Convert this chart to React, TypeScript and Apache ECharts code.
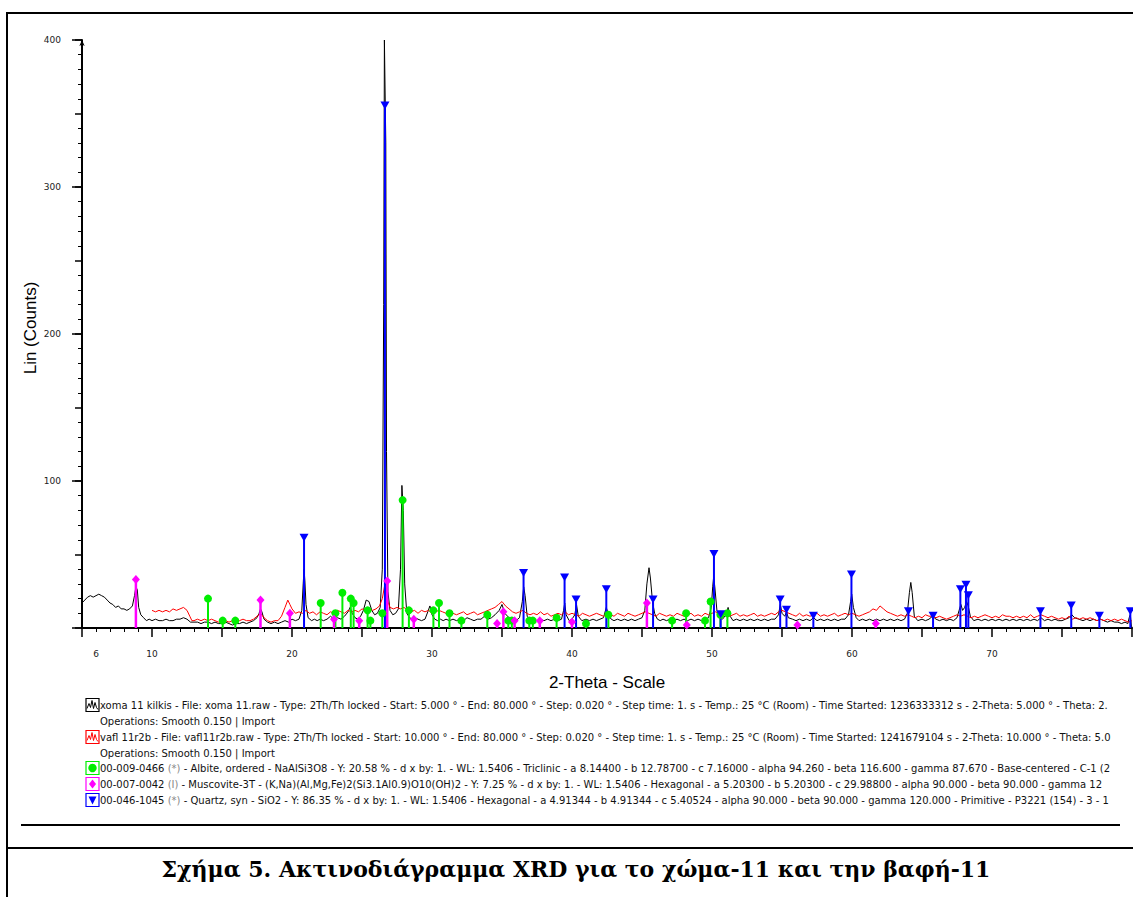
import React, { useEffect, useRef } from "react";
import * as echarts from "echarts";

// ---- Scan: xoma 11 kilkis (black), [2θ, counts]
const XOMA_SCAN: [number, number][] = [
  [5.0, 17], [5.2, 19], [5.4, 21], [5.6, 22], [5.8, 21], [6.0, 22], [6.2, 23], [6.4, 22], [6.6, 21], [6.8, 19],
  [7.0, 17], [7.2, 16], [7.4, 14], [7.6, 15], [7.8, 13], [8.0, 13], [8.2, 12], [8.4, 13], [8.6, 15], [8.75, 22],
  [8.85, 28], [8.95, 26], [9.05, 14], [9.2, 9], [9.4, 7], [9.6, 5], [9.8, 6], [10.0, 5], [10.25, 6], [10.5, 5],
  [10.75, 5], [11.0, 6], [11.25, 5], [11.5, 5], [11.75, 6], [12.0, 6], [12.25, 7], [12.5, 6], [12.75, 4], [13.0, 4],
  [13.25, 4], [13.5, 3], [13.75, 4], [14.0, 4], [14.25, 3], [14.5, 4], [14.75, 3], [15.0, 3], [15.25, 4], [15.5, 3],
  [15.75, 2], [16.0, 3], [16.25, 3], [16.5, 4], [16.75, 3], [17.0, 4], [17.25, 5], [17.5, 7], [17.65, 10], [17.75, 13],
  [17.85, 11], [18.0, 6], [18.25, 4], [18.5, 3], [18.75, 4], [19.0, 3], [19.25, 4], [19.5, 5], [19.75, 4], [20.0, 6],
  [20.25, 5], [20.5, 6], [20.7, 12], [20.8, 30], [20.86, 40], [20.92, 32], [21.0, 16], [21.15, 7], [21.4, 5], [21.6, 6],
  [21.8, 5], [22.0, 6], [22.25, 5], [22.5, 6], [22.75, 8], [23.0, 6], [23.25, 7], [23.5, 6], [23.75, 8], [24.0, 11],
  [24.15, 14], [24.3, 10], [24.5, 7], [24.7, 6], [24.9, 8], [25.1, 12], [25.3, 19], [25.5, 18], [25.7, 12], [25.9, 9],
  [26.1, 10], [26.3, 14], [26.45, 40], [26.55, 220], [26.6, 400], [26.65, 400], [26.7, 330], [26.75, 120], [26.85, 25], [27.0, 12],
  [27.2, 9], [27.4, 10], [27.6, 13], [27.75, 40], [27.85, 97], [27.95, 80], [28.05, 30], [28.2, 10], [28.4, 7], [28.6, 6],
  [28.8, 7], [29.0, 6], [29.25, 5], [29.5, 6], [29.7, 11], [29.85, 15], [30.0, 9], [30.2, 6], [30.4, 5], [30.6, 6],
  [30.8, 5], [31.0, 6], [31.25, 5], [31.5, 6], [31.75, 5], [32.0, 6], [32.25, 5], [32.5, 7], [32.75, 6], [33.0, 5],
  [33.25, 6], [33.5, 6], [33.75, 8], [34.0, 6], [34.25, 7], [34.5, 9], [34.8, 12], [35.0, 16], [35.2, 10], [35.5, 7],
  [35.75, 6], [36.0, 5], [36.25, 7], [36.45, 18], [36.55, 28], [36.65, 22], [36.8, 8], [37.0, 5], [37.25, 6], [37.5, 5],
  [37.75, 6], [38.0, 5], [38.25, 6], [38.5, 5], [38.75, 6], [39.0, 5], [39.25, 6], [39.4, 12], [39.48, 17], [39.58, 9],
  [39.8, 5], [40.0, 6], [40.2, 9], [40.32, 16], [40.45, 8], [40.7, 5], [41.0, 6], [41.25, 5], [41.5, 6], [41.75, 5],
  [42.0, 6], [42.25, 7], [42.45, 14], [42.6, 9], [42.8, 6], [43.0, 5], [43.25, 6], [43.5, 5], [43.75, 6], [44.0, 5],
  [44.25, 6], [44.5, 5], [44.75, 6], [45.0, 7], [45.2, 12], [45.35, 30], [45.5, 41], [45.6, 34], [45.75, 18], [45.9, 10],
  [46.1, 6], [46.3, 5], [46.5, 6], [46.75, 5], [47.0, 6], [47.25, 5], [47.5, 6], [47.75, 5], [48.0, 6], [48.25, 5],
  [48.5, 6], [48.75, 5], [49.0, 6], [49.25, 5], [49.5, 6], [49.75, 7], [49.95, 14], [50.05, 28], [50.12, 35], [50.2, 28],
  [50.35, 12], [50.5, 7], [50.75, 6], [51.0, 9], [51.15, 14], [51.3, 8], [51.5, 5], [51.75, 6], [52.0, 5], [52.25, 6],
  [52.5, 5], [52.75, 6], [53.0, 5], [53.25, 6], [53.5, 5], [53.75, 6], [54.0, 5], [54.25, 6], [54.5, 6], [54.75, 9],
  [54.88, 16], [55.0, 10], [55.2, 8], [55.32, 11], [55.45, 7], [55.75, 6], [56.0, 5], [56.25, 6], [56.5, 5], [56.75, 6],
  [57.0, 5], [57.25, 7], [57.5, 5], [57.75, 6], [58.0, 5], [58.25, 6], [58.5, 5], [58.75, 6], [59.0, 5], [59.25, 6],
  [59.5, 6], [59.75, 9], [59.9, 18], [59.98, 23], [60.1, 14], [60.3, 7], [60.5, 5], [60.75, 6], [61.0, 5], [61.25, 6],
  [61.5, 5], [61.75, 6], [62.0, 5], [62.25, 6], [62.5, 5], [62.75, 6], [63.0, 5], [63.25, 6], [63.5, 5], [63.75, 6],
  [63.95, 10], [64.1, 24], [64.2, 31], [64.3, 24], [64.45, 8], [64.7, 5], [65.0, 6], [65.25, 5], [65.5, 6], [65.75, 8],
  [66.0, 6], [66.25, 5], [66.5, 6], [66.75, 5], [67.0, 6], [67.25, 5], [67.5, 7], [67.65, 12], [67.78, 16], [67.9, 12],
  [68.05, 14], [68.18, 18], [68.3, 15], [68.45, 8], [68.7, 5], [69.0, 6], [69.25, 5], [69.5, 6], [69.75, 5], [70.0, 6],
  [70.25, 5], [70.5, 6], [70.75, 5], [71.0, 6], [71.25, 5], [71.5, 6], [71.75, 5], [72.0, 6], [72.25, 5], [72.5, 6],
  [72.75, 5], [73.0, 6], [73.25, 5], [73.5, 7], [73.75, 5], [74.0, 6], [74.25, 5], [74.5, 6], [74.75, 5], [75.0, 5],
  [75.25, 6], [75.5, 7], [75.7, 9], [75.9, 7], [76.2, 6], [76.5, 5], [76.75, 6], [77.0, 5], [77.25, 6], [77.5, 5],
  [77.75, 6], [78.0, 5], [78.25, 4], [78.5, 5], [78.75, 4], [79.0, 4], [79.25, 3], [79.5, 4], [79.7, 3], [79.8, 7],
  [79.88, 9], [79.95, 2], [80.0, 0],
];

// ---- Scan: vafl 11r2b (red), [2θ, counts]
const VAFL_SCAN: [number, number][] = [
  [10.0, 12], [10.25, 11], [10.5, 12], [10.75, 11], [11.0, 12], [11.25, 11], [11.5, 13], [11.75, 12], [12.0, 13], [12.25, 14],
  [12.5, 12], [12.7, 8], [12.85, 5], [13.0, 5], [13.25, 6], [13.5, 5], [13.75, 6], [14.0, 5], [14.25, 6], [14.5, 5],
  [14.75, 4], [15.0, 5], [15.25, 5], [15.5, 4], [15.75, 5], [16.0, 4], [16.25, 5], [16.5, 6], [16.75, 5], [17.0, 5],
  [17.25, 6], [17.5, 8], [17.75, 10], [18.0, 7], [18.25, 5], [18.5, 4], [18.75, 5], [19.0, 5], [19.25, 8], [19.5, 14],
  [19.7, 19], [19.85, 16], [20.0, 13], [20.25, 10], [20.5, 11], [20.75, 10], [21.0, 12], [21.25, 10], [21.5, 11], [21.75, 9],
  [22.0, 11], [22.25, 10], [22.5, 9], [22.75, 11], [23.0, 10], [23.25, 12], [23.5, 11], [23.75, 10], [24.0, 12], [24.25, 11],
  [24.5, 12], [24.75, 11], [25.0, 13], [25.25, 12], [25.5, 13], [25.75, 12], [26.0, 13], [26.25, 15], [26.45, 20], [26.6, 28],
  [26.7, 26], [26.85, 18], [27.0, 14], [27.25, 13], [27.5, 14], [27.75, 13], [28.0, 14], [28.25, 12], [28.5, 11], [28.75, 12],
  [29.0, 10], [29.25, 12], [29.5, 11], [29.75, 12], [30.0, 10], [30.25, 11], [30.5, 12], [30.75, 11], [31.0, 10], [31.25, 11],
  [31.5, 10], [31.75, 9], [32.0, 10], [32.25, 11], [32.5, 9], [32.75, 10], [33.0, 11], [33.25, 9], [33.5, 10], [33.75, 11],
  [34.0, 12], [34.25, 13], [34.5, 14], [34.75, 16], [35.0, 18], [35.25, 15], [35.5, 13], [35.75, 11], [36.0, 10], [36.25, 11],
  [36.5, 12], [36.75, 10], [37.0, 9], [37.25, 10], [37.5, 9], [37.75, 11], [38.0, 9], [38.25, 10], [38.5, 8], [38.75, 9],
  [39.0, 10], [39.25, 9], [39.5, 11], [39.75, 9], [40.0, 10], [40.25, 9], [40.5, 8], [40.75, 10], [41.0, 9], [41.25, 8],
  [41.5, 9], [41.75, 10], [42.0, 9], [42.25, 8], [42.5, 10], [42.75, 9], [43.0, 8], [43.25, 10], [43.5, 9], [43.75, 8],
  [44.0, 10], [44.25, 9], [44.5, 8], [44.75, 9], [45.0, 10], [45.25, 11], [45.5, 10], [45.75, 9], [46.0, 8], [46.25, 10],
  [46.5, 9], [46.75, 8], [47.0, 9], [47.25, 8], [47.5, 10], [47.75, 9], [48.0, 8], [48.25, 9], [48.5, 10], [48.75, 8],
  [49.0, 9], [49.25, 8], [49.5, 10], [49.75, 9], [50.0, 10], [50.25, 11], [50.5, 9], [50.75, 10], [51.0, 9], [51.25, 8],
  [51.5, 9], [51.75, 10], [52.0, 8], [52.25, 9], [52.5, 8], [52.75, 9], [53.0, 10], [53.25, 8], [53.5, 9], [53.75, 8],
  [54.0, 9], [54.25, 10], [54.5, 9], [54.75, 11], [55.0, 12], [55.25, 11], [55.5, 10], [55.75, 9], [56.0, 8], [56.25, 10],
  [56.5, 8], [56.75, 9], [57.0, 8], [57.25, 9], [57.5, 10], [57.75, 8], [58.0, 9], [58.25, 8], [58.5, 9], [58.75, 10],
  [59.0, 8], [59.25, 9], [59.5, 10], [59.75, 9], [60.0, 10], [60.25, 9], [60.5, 8], [60.75, 9], [61.0, 10], [61.25, 11],
  [61.5, 13], [61.75, 12], [62.0, 15], [62.25, 13], [62.5, 11], [62.75, 10], [63.0, 9], [63.25, 8], [63.5, 9], [63.75, 8],
  [64.0, 9], [64.25, 8], [64.5, 7], [64.75, 8], [65.0, 7], [65.25, 9], [65.5, 8], [65.75, 8], [66.0, 7], [66.25, 8],
  [66.5, 7], [66.75, 6], [67.0, 7], [67.25, 8], [67.5, 9], [67.75, 8], [68.0, 9], [68.25, 8], [68.5, 7], [68.75, 8],
  [69.0, 7], [69.25, 8], [69.5, 9], [69.75, 8], [70.0, 7], [70.25, 8], [70.5, 7], [70.75, 9], [71.0, 8], [71.25, 8],
  [71.5, 7], [71.75, 8], [72.0, 7], [72.25, 8], [72.5, 7], [72.75, 9], [73.0, 7], [73.25, 8], [73.5, 9], [73.75, 8],
  [74.0, 7], [74.25, 8], [74.5, 7], [74.75, 6], [75.0, 7], [75.25, 6], [75.5, 8], [75.75, 6], [76.0, 7], [76.25, 6],
  [76.5, 7], [76.75, 6], [77.0, 7], [77.25, 6], [77.5, 5], [77.75, 6], [78.0, 5], [78.25, 6], [78.5, 5], [78.75, 6],
  [79.0, 5], [79.25, 6], [79.5, 5], [79.75, 4], [80.0, 5],
];

// ---- Reference patterns (stick positions / heights)
const ALBITE_STICKS: [number, number][] = [
  [14.0, 20], [15.05, 5], [15.95, 5], [22.05, 17], [23.1, 10], [23.6, 24], [24.2, 20], [24.4, 17], [25.4, 12],
  [25.6, 5], [26.45, 10], [27.9, 87], [28.35, 12], [30.1, 12], [30.5, 17], [31.25, 10], [32.1, 5], [33.95, 9],
  [35.45, 5], [35.7, 5], [36.95, 5], [37.2, 5], [38.9, 7], [41.0, 3], [42.6, 9], [47.15, 5], [48.15, 10],
  [49.5, 5], [49.9, 18], [50.6, 9], [51.1, 10],
];
const MUSCOVITE_STICKS: [number, number][] = [
  [8.85, 33], [17.75, 19], [19.85, 10], [23.0, 6], [24.8, 5], [26.8, 32], [28.7, 6], [34.65, 3], [35.1, 11],
  [35.9, 5], [37.7, 5], [40.0, 4], [45.35, 17], [48.2, 2], [56.1, 2], [61.7, 3],
];
const QUARTZ_STICKS: [number, number][] = [
  [20.86, 60], [26.64, 354], [36.54, 36], [39.47, 33], [40.29, 18], [42.45, 25], [45.79, 18], [50.14, 49],
  [50.62, 8], [54.87, 18], [55.32, 11], [57.24, 7], [59.96, 35], [64.03, 10], [65.79, 7], [67.74, 25],
  [68.14, 28], [68.31, 21], [73.46, 10], [75.66, 14], [77.67, 7], [79.88, 10],
];

const X_LABEL_VALUES = [6, 10, 20, 30, 40, 50, 60, 70];
const Y_LABEL_VALUES = [100, 200, 300, 400];

const LEGEND_LINES = [
  "xoma 11 kilkis - File: xoma 11.raw - Type: 2Th/Th locked - Start: 5.000 ° - End: 80.000 ° - Step: 0.020 ° - Step time: 1. s - Temp.: 25 °C (Room) - Time Started: 1236333312 s - 2-Theta: 5.000 ° - Theta: 2.",
  "Operations: Smooth 0.150 | Import",
  "vafl 11r2b - File: vafl11r2b.raw - Type: 2Th/Th locked - Start: 10.000 ° - End: 80.000 ° - Step: 0.020 ° - Step time: 1. s - Temp.: 25 °C (Room) - Time Started: 1241679104 s - 2-Theta: 10.000 ° - Theta: 5.0",
  "Operations: Smooth 0.150 | Import",
  "00-009-0466 {g|(*)} - Albite, ordered - NaAlSi3O8 - Y: 20.58 % - d x by: 1. - WL: 1.5406 - Triclinic - a 8.14400 - b 12.78700 - c 7.16000 - alpha 94.260 - beta 116.600 - gamma 87.670 - Base-centered - C-1 (2",
  "00-007-0042 {g|(I)} - Muscovite-3T - (K,Na)(Al,Mg,Fe)2(Si3.1Al0.9)O10(OH)2 - Y: 7.25 % - d x by: 1. - WL: 1.5406 - Hexagonal - a 5.20300 - b 5.20300 - c 29.98800 - alpha 90.000 - beta 90.000 - gamma 12",
  "00-046-1045 {g|(*)} - Quartz, syn - SiO2 - Y: 86.35 % - d x by: 1. - WL: 1.5406 - Hexagonal - a 4.91344 - b 4.91344 - c 5.40524 - alpha 90.000 - beta 90.000 - gamma 120.000 - Primitive - P3221 (154) - 3 - 1",
];

const CAPTION = "Σχήμα 5. Ακτινοδιάγραμμα XRD για το χώμα-11 και την βαφή-11";

const BLACK = "#000000";
const RED = "#ff0000";
const GREEN = "#00ee00";
const MAGENTA = "#ff00ff";
const BLUE = "#0000ff";

const SMALL_FONT = "DejaVu Sans";

function stickSeries(name: string, data: [number, number][], color: string, width: number) {
  return {
    name,
    type: "custom",
    data,
    clip: true,
    z: 3,
    renderItem: (_p: any, api: any) => {
      const top = api.coord([api.value(0), api.value(1)]);
      const base = api.coord([api.value(0), 0]);
      return {
        type: "line",
        shape: { x1: top[0], y1: top[1], x2: base[0], y2: base[1] },
        style: { stroke: color, lineWidth: width },
      };
    },
  };
}

function markerSeries(name: string, data: [number, number][], color: string, symbol: string, size: any, rotate = 0, offset = [0, 0]) {
  return {
    name,
    type: "scatter",
    data,
    symbol,
    symbolSize: size,
    symbolRotate: rotate,
    symbolOffset: offset,
    itemStyle: { color, opacity: 1 },
    z: 4,
    silent: true,
  };
}

function legendIcon(y: number, color: string, kind: string): any {
  const x0 = 86;
  const y0 = y - 6.5;
  const children: any[] = [
    { type: "rect", shape: { x: x0, y: y0, width: 13, height: 13 }, style: { fill: "#fff", stroke: color, lineWidth: 1.2 } },
  ];
  if (kind === "line") {
    children.push({
      type: "polyline",
      shape: { points: [[x0 + 1, y0 + 10], [x0 + 3, y0 + 5], [x0 + 4.5, y0 + 9], [x0 + 6, y0 + 2], [x0 + 7.5, y0 + 10], [x0 + 9, y0 + 4], [x0 + 10.5, y0 + 9], [x0 + 12, y0 + 11]] },
      style: { stroke: color, fill: null, lineWidth: 1 },
    });
  } else if (kind === "circle") {
    children.push({ type: "circle", shape: { cx: x0 + 6.5, cy: y0 + 6.5, r: 4.2 }, style: { fill: color } });
  } else if (kind === "diamond") {
    children.push({ type: "polygon", shape: { points: [[x0 + 6.5, y0 + 2], [x0 + 10, y0 + 6.5], [x0 + 6.5, y0 + 11], [x0 + 3, y0 + 6.5]] }, style: { fill: color } });
  } else {
    children.push({ type: "polygon", shape: { points: [[x0 + 2.5, y0 + 3], [x0 + 10.5, y0 + 3], [x0 + 6.5, y0 + 11]] }, style: { fill: color } });
  }
  return { type: "group", children };
}

export default function App() {
  const ref = useRef<HTMLDivElement>(null);

  useEffect(() => {
    if (!ref.current) return;
    const chart = echarts.init(ref.current, undefined, { renderer: "svg" });

    const legendY = [705, 721, 737, 753, 768, 784, 800];
    const legendKinds: [string, string][] = [
      [BLACK, "line"], ["", ""], [RED, "line"], ["", ""], [GREEN, "circle"], [MAGENTA, "diamond"], [BLUE, "triangle"],
    ];

    const graphics: any[] = [
      // outer frame
      { type: "line", shape: { x1: 6, y1: 13, x2: 1133, y2: 13 }, style: { stroke: "#000", lineWidth: 2 } },
      { type: "line", shape: { x1: 7, y1: 12, x2: 7, y2: 897 }, style: { stroke: "#000", lineWidth: 2 } },
      { type: "line", shape: { x1: 6, y1: 848, x2: 1133, y2: 848 }, style: { stroke: "#000", lineWidth: 2 } },
      { type: "line", shape: { x1: 21, y1: 825, x2: 1120, y2: 825 }, style: { stroke: "#000", lineWidth: 2 } },
      // axis names
      {
        type: "text",
        style: { text: "2-Theta - Scale", x: 607, y: 682, align: "center", verticalAlign: "middle", font: '17px "Liberation Sans", Arial, sans-serif', fill: "#000" },
      },
      {
        type: "text",
        x: 30,
        y: 328,
        rotation: Math.PI / 2,
        style: { text: "Lin (Counts)", x: 0, y: 0, align: "center", verticalAlign: "middle", font: '17px "Liberation Sans", Arial, sans-serif', fill: "#000" },
      },
      // caption
      {
        type: "text",
        style: { text: CAPTION, x: 576, y: 869, align: "center", verticalAlign: "middle", font: 'bold 22px "DejaVu Serif", "Liberation Serif", serif', fill: "#000" },
      },
    ];

    LEGEND_LINES.forEach((t, i) => {
      const [col, kind] = legendKinds[i];
      if (kind) graphics.push(legendIcon(legendY[i], col, kind));
      graphics.push({
        type: "text",
        style: {
          text: t,
          x: 100,
          y: legendY[i],
          align: "left",
          verticalAlign: "middle",
          font: `10px "${SMALL_FONT}", sans-serif`,
          fill: "#111",
          rich: { g: { fill: "#888", font: `10px "${SMALL_FONT}", sans-serif` } },
        },
      });
    });

    const axisLabelStyle = { fontFamily: SMALL_FONT, fontSize: 9, color: "#222" };

    chart.setOption({
      animation: false,
      backgroundColor: "#ffffff",
      grid: { left: 82, top: 40, width: 1050, height: 588, containLabel: false },
      xAxis: {
        type: "value",
        min: 5,
        max: 80,
        interval: 5,
        axisLine: { show: true, onZero: false, lineStyle: { color: "#000", width: 2 } },
        axisTick: { show: true, length: 9, lineStyle: { color: "#000", width: 1.5 } },
        minorTick: { show: true, splitNumber: 5, length: 4, lineStyle: { color: "#000", width: 1 } },
        axisLabel: { ...axisLabelStyle, margin: 21, customValues: X_LABEL_VALUES },
        splitLine: { show: false },
      },
      yAxis: [
        {
          type: "value",
          min: 0,
          max: 400,
          interval: 50,
          position: "left",
          axisLine: { show: true, lineStyle: { color: "#000", width: 2 }, symbol: ["none", "arrow"], symbolSize: [4, 6] },
          axisTick: { show: true, length: 7, lineStyle: { color: "#000", width: 1.5 } },
          minorTick: { show: true, splitNumber: 5, length: 4, lineStyle: { color: "#000", width: 1 } },
          axisLabel: { ...axisLabelStyle, margin: 21, customValues: Y_LABEL_VALUES },
          splitLine: { show: false },
        },
        {
          type: "value",
          min: 0,
          max: 400,
          interval: 100,
          position: "left",
          offset: 0,
          axisLine: { show: false },
          axisTick: { show: true, length: 10, lineStyle: { color: "#000", width: 1.5 } },
          axisLabel: { show: false },
          splitLine: { show: false },
        },
      ],
      series: [
        { name: "xoma 11 kilkis", type: "line", data: XOMA_SCAN, showSymbol: false, lineStyle: { color: BLACK, width: 1 }, z: 2, clip: true },
        { name: "vafl 11r2b", type: "line", data: VAFL_SCAN, showSymbol: false, lineStyle: { color: RED, width: 1 }, z: 2, clip: true },
        stickSeries("Albite", ALBITE_STICKS, GREEN, 2),
        stickSeries("Muscovite", MUSCOVITE_STICKS, MAGENTA, 2.5),
        stickSeries("Quartz", QUARTZ_STICKS, BLUE, 2),
        markerSeries("Albite mk", ALBITE_STICKS, GREEN, "circle", 8),
        markerSeries("Muscovite mk", MUSCOVITE_STICKS, MAGENTA, "diamond", [8, 9]),
        markerSeries("Quartz mk", QUARTZ_STICKS, BLUE, "triangle", [9, 8], 180, [0, -2]),
      ],
      graphic: graphics,
    });

    return () => chart.dispose();
  }, []);

  return <div ref={ref} style={{ position: "fixed", left: 0, top: 0, width: 1133, height: 897 }} />;
}
